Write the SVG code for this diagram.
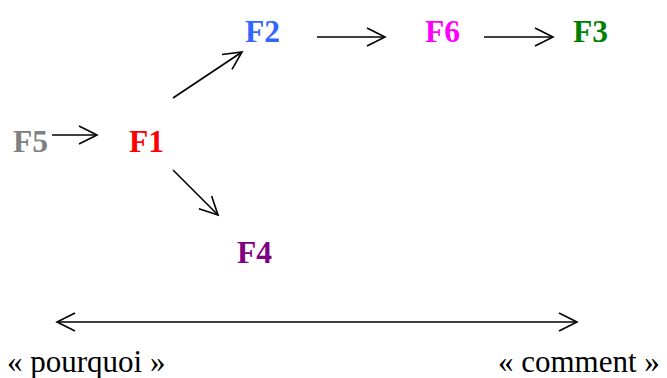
<svg xmlns="http://www.w3.org/2000/svg" width="667" height="378" viewBox="0 0 667 378">
<defs>
<marker id="arr" markerUnits="userSpaceOnUse" markerWidth="30" markerHeight="30" viewBox="-20 -15 30 30" refX="0" refY="0" orient="auto-start-reverse">
<path d="M-18,-9 L0,0 L-18,9" fill="none" stroke="#000" stroke-width="1.6"/>
</marker>
</defs>
<style>
.n{font-family:"Liberation Serif","Times New Roman",serif;font-weight:bold;font-size:31.5px}
.t{font-family:"Liberation Serif","Times New Roman",serif;font-size:31px;fill:#000}
.c{stroke:#000;stroke-width:1.6;fill:none;marker-end:url(#arr)}
</style>
<g id="F5"><text class="n" x="13" y="152" fill="#808080">F5</text></g>
<g id="F1"><text class="n" x="129" y="152" fill="#ff0000">F1</text></g>
<g id="F2"><text class="n" x="245" y="42" fill="#3366ff">F2</text></g>
<g id="F6"><text class="n" x="425" y="42" fill="#ff00ff">F6</text></g>
<g id="F3"><text class="n" x="573" y="42" fill="#008000">F3</text></g>
<g id="F4"><text class="n" x="237" y="263" fill="#800080">F4</text></g>
<g id="connectors">
<line class="c" x1="52" y1="135" x2="97" y2="135"/>
<line class="c" x1="173" y1="98" x2="242" y2="52"/>
<line class="c" x1="173" y1="170" x2="218" y2="215"/>
<line class="c" x1="317" y1="37" x2="385" y2="37"/>
<line class="c" x1="484" y1="37" x2="553" y2="37"/>
<line class="c" x1="57" y1="322" x2="577" y2="322" style="marker-start:url(#arr)"/>
</g>
<text class="t" x="7" y="372">« pourquoi »</text>
<text class="t" x="498" y="372">« comment »</text>
</svg>
